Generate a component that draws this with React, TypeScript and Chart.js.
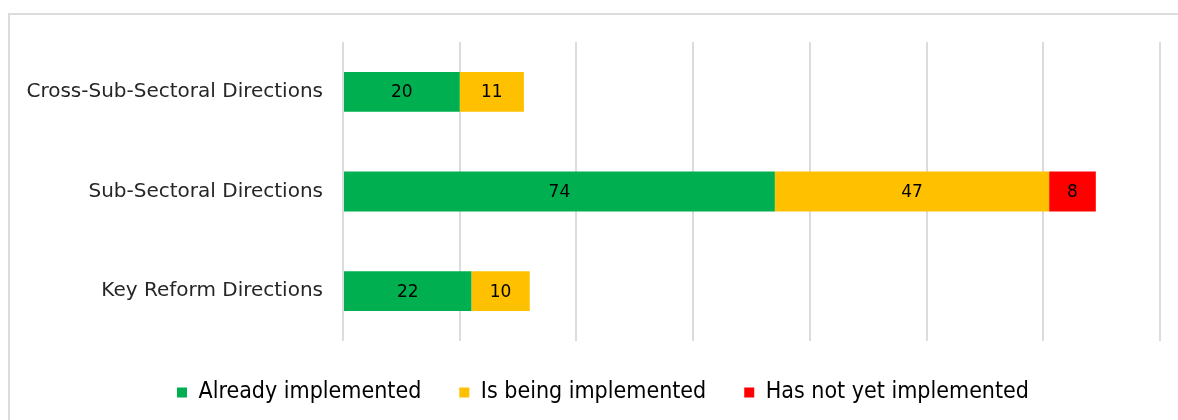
import React, { useEffect, useRef } from "react";
import { Chart, registerables } from "chart.js";

Chart.register(...registerables);

const categories = ["Cross-Sub-Sectoral Directions", "Sub-Sectoral Directions", "Key Reform Directions"];
const seriesNames = ["Already implemented", "Is being implemented", "Has not yet implemented"];
const alreadyImplemented = [20, 74, 22];
const beingImplemented = [11, 47, 10];
const notYetImplemented = [0, 8, 0];
const seriesColors = ["#00b050", "#ffc000", "#ff0000"];
const xMin = 0;
const xMax = 140;
const xStep = 20;

const barLabels = {
  id: "barLabels",
  afterDatasetsDraw(chart: any) {
    const ctx = chart.ctx;
    ctx.save();
    ctx.font = "17px 'DejaVu Sans', sans-serif";
    ctx.fillStyle = "#000000";
    ctx.textAlign = "center";
    ctx.textBaseline = "middle";
    chart.data.datasets.forEach((ds: any, i: number) => {
      const meta = chart.getDatasetMeta(i);
      meta.data.forEach((el: any, j: number) => {
        const v = ds.data[j];
        if (!v) return;
        ctx.fillText(String(v), (el.x + el.base) / 2, el.y + 1);
      });
    });
    ctx.restore();
  },
};

const legendShift = {
  id: "legendShift",
  afterLayout(chart: any) {
    if (chart.legend) {
      chart.legend.left += 18;
      chart.legend.right += 18;
    }
  },
};

export default function App() {
  const ref = useRef<HTMLCanvasElement>(null);
  useEffect(() => {
    if (!ref.current) return;
    const chart = new Chart(ref.current, {
      type: "bar",
      data: {
        labels: categories,
        datasets: [
          { label: seriesNames[0], data: alreadyImplemented, backgroundColor: seriesColors[0] },
          { label: seriesNames[1], data: beingImplemented, backgroundColor: seriesColors[1] },
          { label: seriesNames[2], data: notYetImplemented, backgroundColor: seriesColors[2] },
        ],
      },
      options: {
        indexAxis: "y",
        animation: false,
        responsive: false,
        maintainAspectRatio: false,
        layout: { padding: { top: 27, right: 18, left: 0, bottom: 6 } },
        datasets: { bar: { barPercentage: 1, categoryPercentage: 0.4, borderWidth: 0 } },
        scales: {
          x: {
            stacked: true,
            min: xMin,
            max: xMax,
            ticks: { display: false, stepSize: xStep },
            grid: { color: "#dcdcdc", lineWidth: 2, drawTicks: false },
            border: { display: false },
            afterFit: (s: any) => {
              s.height = 2;
              s.paddingLeft = 0;
              s.paddingRight = 0;
            },
          },
          y: {
            stacked: true,
            ticks: {
              padding: 20,
              color: "#262626",
              font: { family: "'DejaVu Sans', sans-serif", size: 20 },
            },
            grid: { display: false, drawTicks: false },
            border: { display: false },
            afterFit: (s: any) => {
              s.width = 333;
              s.paddingTop = 0;
              s.paddingBottom = 0;
            },
          },
        },
        plugins: {
          legend: {
            position: "bottom",
            labels: {
              boxWidth: 10,
              boxHeight: 10,
              padding: 38,
              color: "#000000",
              font: { family: "'DejaVu Sans Condensed', 'DejaVu Sans', sans-serif", size: 23 },
            },
          },
          tooltip: { enabled: false },
        },
      },
      plugins: [barLabels, legendShift],
    } as any);
    return () => chart.destroy();
  }, []);

  return (
    <div
      style={{
        position: "fixed",
        left: 8,
        top: 13,
        width: 1168,
        height: 405,
        borderTop: "2px solid #dcdcdc",
        borderLeft: "2px solid #dcdcdc",
        overflow: "hidden",
      }}
    >
      <canvas ref={ref} width={1168} height={405} style={{ display: "block" }} />
    </div>
  );
}
